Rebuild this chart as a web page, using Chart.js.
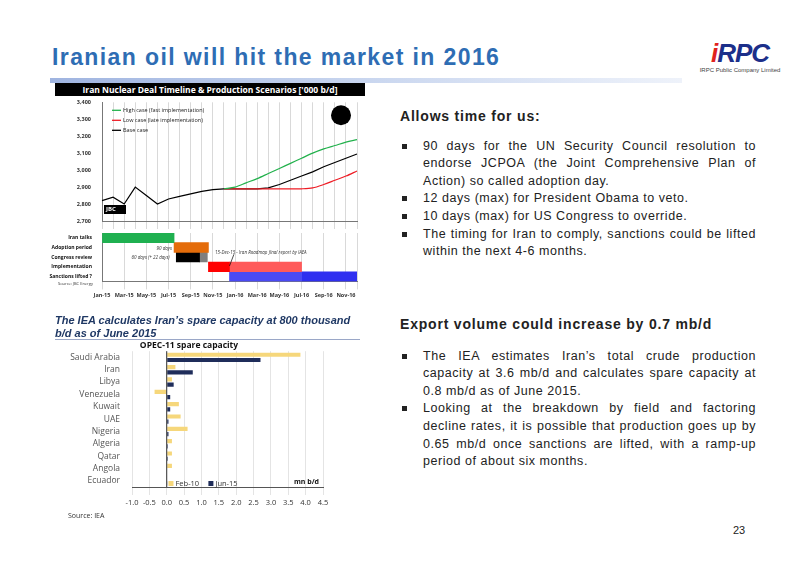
<!DOCTYPE html>
<html>
<head>
<meta charset="utf-8">
<script src="https://cdn.jsdelivr.net/npm/chart.js@4"></script>
<style>
  body { margin: 0; width: 800px; height: 566px; background: #fff; position: relative; font-family: "Liberation Sans", Arial, sans-serif; overflow: hidden; }
  .abs { position: absolute; }
  #title { left: 52px; top: 44px; font-size: 23px; font-weight: bold; color: #2e6db4; letter-spacing: 1.4px; }
  #rule { left: 50px; top: 78px; width: 632px; height: 5px; background: linear-gradient(to right, #9fb4e0, #c9d6ef, #eef2fa); }
  #logo { left: 690px; top: 38px; width: 100px; text-align: center; }
  #logo .big { font-size: 26px; font-weight: bold; font-style: italic; color: #1c2f8a; letter-spacing: -1px; }
  #logo .big span { color: #e0221c; }
  #logo .small { font-size: 6px; color: #444; margin-top: -2px; }
  #topTitle { left: 55px; top: 83px; width: 310px; height: 13px; background: #000; color: #fff; font-family: "Open Sans", sans-serif; font-weight: bold; font-size: 8.5px; text-align: center; line-height: 13px; }
  .rt { left: 400px; width: 356px; color: #222; font-size: 12.5px; line-height: 17.6px; }
  .rt h3 { margin: 0; font-size: 14px; font-weight: bold; letter-spacing: 0.8px; color: #222; }
  .rt ul { margin: 12px 0 0 0; padding: 0; list-style: none; }
  .rt li { position: relative; padding-left: 23px; text-align: justify; letter-spacing: 0.55px; }
  .rt li:before { content: ""; position: absolute; left: 2px; top: 6px; width: 5px; height: 5px; background: #222; }
  #botTitle { left: 55px; top: 314px; width: 305px; font-size: 11px; font-weight: bold; font-style: italic; color: #1f3864; line-height: 12.5px; }
  #botRule { left: 55px; top: 339px; width: 305px; height: 1px; background: #9aa7c7; }
  #src { left: 68px; top: 511px; font-size: 7px; color: #333; font-family: "Open Sans", sans-serif; }
  #page { left: 733px; top: 524px; font-size: 11px; color: #222; }
</style>
</head>
<body>
<div id="title" class="abs">Iranian oil will hit the market in 2016</div>
<div id="rule" class="abs"></div>
<div id="logo" class="abs"><div class="big"><span>i</span>RPC</div><div class="small">IRPC Public Company Limited</div></div>

<div id="topTitle" class="abs">Iran Nuclear Deal Timeline &amp; Production Scenarios ['000 b/d]</div>
<div class="abs" style="left:48px;top:96px;width:317px;height:133px"><canvas id="lineChart"></canvas></div>
<div class="abs" style="left:48px;top:228px;width:317px;height:74px"><canvas id="gantt"></canvas></div>

<div class="abs rt" style="top:108px">
  <h3>Allows time for us:</h3>
  <ul>
    <li>90 days for the UN Security Council resolution to endorse JCPOA (the Joint Comprehensive Plan of Action) so called adoption day.</li>
    <li>12 days (max) for President Obama to veto.</li>
    <li>10 days (max) for US Congress to override.</li>
    <li>The timing for Iran to comply, sanctions could be lifted within the next 4-6 months.</li>
  </ul>
</div>
<div class="abs rt" style="top:316px">
  <h3>Export volume could increase by 0.7 mb/d</h3>
  <ul style="margin-top:14px">
    <li>The IEA estimates Iran’s total crude production capacity at 3.6 mb/d and calculates spare capacity at 0.8 mb/d as of June 2015.</li>
    <li>Looking at the breakdown by field and factoring decline rates, it is possible that production goes up by 0.65 mb/d once sanctions are lifted, with a ramp-up period of about six months.</li>
  </ul>
</div>

<div id="botTitle" class="abs">The IEA calculates Iran’s spare capacity at 800 thousand b/d as of June 2015</div>
<div id="botRule" class="abs"></div>
<div class="abs" style="left:55px;top:340px;width:280px;height:172px"><canvas id="barChart"></canvas></div>
<div id="src" class="abs">Source: IEA</div>
<div id="page" class="abs">23</div>

<script>
const months = ["Jan-15","Feb-15","Mar-15","Apr-15","May-15","Jun-15","Jul-15","Aug-15","Sep-15","Oct-15","Nov-15","Dec-15",
                "Jan-16","Feb-16","Mar-16","Apr-16","May-16","Jun-16","Jul-16","Aug-16","Sep-16","Oct-16","Nov-16","Dec-16"];
const baseCase = [2820,2840,2800,2900,2850,2800,2830,2845,2860,2875,2885,2890,2890,2890,2890,2895,2915,2940,2965,2990,3020,3045,3070,3095];
const highCase = [null,null,null,null,null,null,null,null,null,null,null,2890,2900,2925,2950,2980,3010,3040,3070,3100,3125,3145,3165,3180];
const lowCase  = [null,null,null,null,null,null,null,null,null,null,null,2890,2890,2890,2890,2890,2890,2890,2890,2895,2915,2940,2965,2995];

const ganttRows = ["Iran talks","Adoption period","Congress review","Implementation","Sanctions lifted ?"];
// month offsets from 1 Jan 2015
const ganttBars = [
  { row: 0, range: [0, 6.5], color: "#1fb050" },
  { row: 1, range: [6.5, 9.6], color: "#e46c0a" },
  { row: 2, range: [6.7, 8.8], color: "#000000" },
  { row: 2, range: [8.8, 9.5], color: "#7f7f7f" },
  { row: 3, range: [9.6, 11.5], color: "#ff0000" },
  { row: 3, range: [11.5, 18], color: "#ff5a5a" },
  { row: 4, range: [11.5, 18], color: "#4a4af5" },
  { row: 4, range: [18, 24], color: "#2f2ff0" }
];

const countries = ["Saudi Arabia","Iran","Libya","Venezuela","Kuwait","UAE","Nigeria","Algeria","Qatar","Angola","Ecuador"];
const feb10 = [3.85,0.25,0.15,-0.35,0.35,0.4,0.6,0.15,0.15,0.15,0];
const jun15 = [2.7,0.75,0.2,0.1,0.1,0.05,0.05,0.03,0.03,0,0.01];

const fixLeft = { afterFit(axis) { axis.width = 54; } };
const smallFont = { family: "Open Sans", size: 5.5, weight: "bold" };

new Chart(document.getElementById("lineChart"), {
  type: "line",
  data: {
    labels: months,
    datasets: [
      { label: "High case (fast implementation)", data: highCase, borderColor: "#22b14c", borderWidth: 1.2, pointRadius: 0, tension: 0.3 },
      { label: "Low case (late implementation)", data: lowCase, borderColor: "#ee1c25", borderWidth: 1.2, pointRadius: 0, tension: 0.3 },
      { label: "Base case", data: baseCase, borderColor: "#000", borderWidth: 1.2, pointRadius: 0, tension: 0 }
    ]
  },
  options: {
    responsive: true, maintainAspectRatio: false, animation: false,
    layout: { padding: { right: 8, top: 3 } },
    plugins: { legend: { display: false }, tooltip: { enabled: false } },
    scales: {
      x: { offset: false, ticks: { display: false }, grid: { color: "#d9d9d9" }, border: { color: "#777" } },
      y: { min: 2700, max: 3400, ticks: { stepSize: 100, font: smallFont, color: "#333", callback: v => v.toLocaleString("en-US") },
           grid: { display: false }, border: { color: "#777" }, ...fixLeft }
    }
  },
  plugins: [{
    id: "legendIn",
    afterDatasetsDraw(c) {
      const ctx = c.ctx, a = c.chartArea;
      ctx.save();
      ctx.font = "5.5px 'Open Sans'";
      ctx.fillStyle = "#222";
      ctx.textBaseline = "middle";
      c.data.datasets.forEach((d, i) => {
        const y = a.top + 8 + i * 10;
        ctx.strokeStyle = d.borderColor; ctx.lineWidth = 1.3;
        ctx.beginPath(); ctx.moveTo(a.left + 10, y); ctx.lineTo(a.left + 19, y); ctx.stroke();
        ctx.fillText(d.label, a.left + 21, y);
      });
      ctx.fillStyle = "#000";
      ctx.fillRect(a.left + 2, a.bottom - 16, 22, 9);
      ctx.fillStyle = "#fff";
      ctx.font = "bold 6px 'Open Sans'";
      ctx.fillText("JBC", a.left + 4, a.bottom - 11.5);
      ctx.beginPath(); ctx.fillStyle = "#000";
      ctx.arc(a.right - 16, a.top + 13, 10, 0, Math.PI * 2); ctx.fill();
      ctx.restore();
    }
  }]
});

new Chart(document.getElementById("gantt"), {
  type: "bar",
  data: {
    labels: ganttRows,
    datasets: ganttBars.map(b => ({
      data: ganttRows.map((r, i) => i === b.row ? b.range : null),
      backgroundColor: b.color,
      barPercentage: 1, categoryPercentage: 1, grouped: false
    }))
  },
  options: {
    indexAxis: "y", responsive: true, maintainAspectRatio: false, animation: false,
    layout: { padding: { right: 8 } },
    plugins: { legend: { display: false }, tooltip: { enabled: false } },
    scales: {
      x: { min: 0, max: 23, ticks: { stepSize: 2, maxRotation: 0, autoSkip: false, font: smallFont, color: "#333", callback: v => (v % 2 === 0 ? months[v] : "") },
           grid: { color: "#d9d9d9" }, border: { color: "#777" } },
      y: { ticks: { font: { family: "Open Sans", size: 5, weight: "bold" }, color: "#111", autoSkip: false, padding: 2 }, grid: { display: false }, border: { color: "#777" }, ...fixLeft }
    }
  },
  plugins: [{
    id: "notes",
    afterDatasetsDraw(c) {
      const ctx = c.ctx, x = c.scales.x, y = c.scales.y;
      ctx.save();
      ctx.font = "italic 4.5px 'Open Sans'";
      ctx.fillStyle = "#333";
      ctx.textAlign = "right";
      ctx.fillText("90 days", x.getPixelForValue(6.3), y.getPixelForValue(1) + 2);
      ctx.fillText("60 days (+ 22 days)", x.getPixelForValue(6.1), y.getPixelForValue(2) + 2);
      ctx.textAlign = "left";
      ctx.fillText("15-Dec-15 - Iran Roadmap final report by IAEA", x.getPixelForValue(10.2), y.getPixelForValue(1.5) + 2);
      ctx.strokeStyle = "#000"; ctx.lineWidth = 0.7;
      ctx.beginPath();
      ctx.moveTo(x.getPixelForValue(11.9), y.getPixelForValue(1.7));
      ctx.lineTo(x.getPixelForValue(11.5), y.getPixelForValue(2.9));
      ctx.stroke();
      ctx.font = "4px 'Open Sans'";
      ctx.fillText("Source: JBC Energy", 10, y.bottom + 4);
      ctx.restore();
    }
  }]
});

new Chart(document.getElementById("barChart"), {
  type: "bar",
  data: {
    labels: countries,
    datasets: [
      { label: "Feb-10", data: feb10, backgroundColor: "#f6d77b", barPercentage: 0.8, categoryPercentage: 0.85 },
      { label: "Jun-15", data: jun15, backgroundColor: "#1f2d5a", barPercentage: 0.8, categoryPercentage: 0.85 }
    ]
  },
  options: {
    indexAxis: "y", responsive: true, maintainAspectRatio: false, animation: false,
    layout: { padding: { right: 12, bottom: 2 } },
    plugins: {
      title: { display: true, text: "OPEC-11 spare capacity", font: { family: "Open Sans", size: 8.5, weight: "bold" }, color: "#111", padding: { top: 0, bottom: 1 } },
      legend: { display: false },
      tooltip: { enabled: false }
    },
    scales: {
      x: { min: -1, max: 4.5, ticks: { stepSize: 0.5, maxRotation: 0, autoSkip: false, font: { family: "Open Sans", size: 7.5 }, color: "#333", callback: v => v.toFixed(1) },
           grid: { color: "#e4e4e4" }, border: { color: "#555" } },
      y: { ticks: { font: { family: "Open Sans", size: 8.5 }, color: "#555", autoSkip: false, padding: 4 }, grid: { display: false }, border: { display: false },
           afterFit(axis) { axis.width = 77; } }
    }
  },
  plugins: [{
    id: "unit",
    afterDatasetsDraw(c) {
      const ctx = c.ctx, a = c.chartArea, x = c.scales.x;
      ctx.save();
      ctx.font = "bold 7px 'Open Sans'";
      ctx.fillStyle = "#111";
      ctx.textAlign = "right";
      ctx.fillText("mn b/d", a.right - 4, a.bottom - 3);
      ctx.strokeStyle = "#333"; ctx.lineWidth = 1;
      const x0 = x.getPixelForValue(0);
      ctx.beginPath(); ctx.moveTo(x0, a.top); ctx.lineTo(x0, a.bottom); ctx.stroke();
      ctx.textAlign = "left"; ctx.textBaseline = "middle";
      ctx.font = "7.5px 'Open Sans'"; ctx.fillStyle = "#333";
      const ly = a.bottom - 3;
      c.data.datasets.forEach((d, i) => {
        const lx = x.getPixelForValue(i === 0 ? 0.05 : 1.2);
        ctx.fillStyle = d.backgroundColor; ctx.fillRect(lx, ly - 3, 5, 5);
        ctx.fillStyle = "#333"; ctx.fillText(d.label, lx + 7, ly);
      });
      ctx.restore();
    }
  }]
});
</script>
</body>
</html>
